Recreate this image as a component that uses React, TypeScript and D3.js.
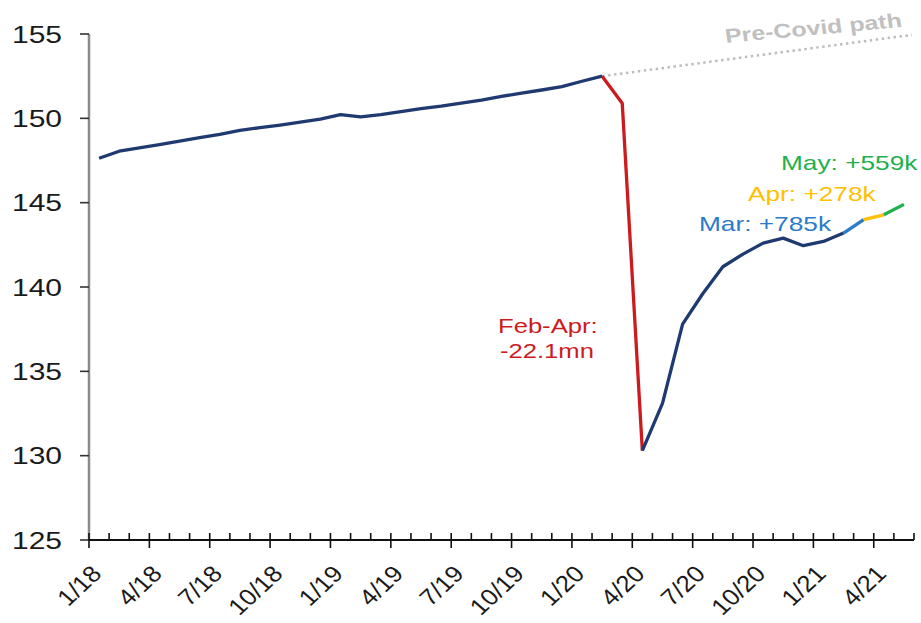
import React from "react";
import * as d3 from "d3";

// ---- data ----
const months = [
  "1/18","2/18","3/18","4/18","5/18","6/18","7/18","8/18","9/18","10/18","11/18","12/18",
  "1/19","2/19","3/19","4/19","5/19","6/19","7/19","8/19","9/19","10/19","11/19","12/19",
  "1/20","2/20","3/20","4/20","5/20","6/20","7/20","8/20","9/20","10/20","11/20","12/20",
  "1/21","2/21","3/21","4/21","5/21",
];
const employment = [
  147.63,148.05,148.25,148.44,148.65,148.85,149.05,149.28,149.45,149.6,149.77,149.95,
  150.22,150.08,150.22,150.4,150.58,150.72,150.9,151.08,151.3,151.5,151.68,151.88,
  152.2,152.5,150.9,130.3,133.1,137.8,139.6,141.2,141.95,142.6,142.9,142.45,
  142.7,143.2,144.0,144.28,144.9,
];
const yTicks = [125, 130, 135, 140, 145, 150, 155];
const xTickLabels = ["1/18","4/18","7/18","10/18","1/19","4/19","7/19","10/19","1/20","4/20","7/20","10/20","1/21","4/21"];
const preCovidMonths = ["2/20", "5/21"];
const preCovidValues = [152.5, 154.95];
// segment break months: navy, red (Feb-Apr), navy, Mar, Apr, May
const segmentBreaks = ["1/18", "2/20", "4/20", "2/21", "3/21", "4/21", "5/21"];
const annotationTexts = ["Feb-Apr:", "-22.1mn", "Mar: +785k", "Apr: +278k", "May: +559k"];
const preCovidLabel = "Pre-Covid path";

// ---- styles ----
const NAVY = "#1f3a70";
const segColors = [NAVY, "#cc1b1f", NAVY, "#2a7bc9", "#ffc000", "#22b04c"];
const FONT = "'Liberation Sans', Arial, Helvetica, sans-serif";

export default function App() {
  const left = 89, right = 914, top = 34, bottom = 540;
  const x = d3.scaleBand<string>().domain(months).range([left, right]).padding(0);
  const y = d3.scaleLinear().domain([125, 155]).range([bottom, top]);
  const bw = x.bandwidth();
  const cx = (m: string) => (x(m) as number) + bw / 2;

  const pts = months.map((m, i) => ({ m, v: employment[i] }));
  const line = d3
    .line<{ m: string; v: number }>()
    .x((d) => cx(d.m))
    .y((d) => y(d.v));

  const segs = segColors.map((c, k) => {
    const a = months.indexOf(segmentBreaks[k]);
    const b = months.indexOf(segmentBreaks[k + 1]);
    return { color: c, d: line(pts.slice(a, b + 1)) as string };
  });

  const preLine = d3
    .line<number>()
    .x((d, i) => (i === 0 ? cx(preCovidMonths[0]) : (x(preCovidMonths[1]) as number) + bw * 0.9))
    .y((d) => y(d));

  const boundaries = d3.range(months.length + 1);

  return (
    <svg
      width={921}
      height={623}
      style={{ position: "absolute", left: 0, top: 0, background: "#fff" }}
      fontFamily={FONT}
    >
      {/* pre-covid path */}
      <path
        d={preLine(preCovidValues) as string}
        fill="none"
        stroke="#bdbdbd"
        strokeWidth={2.5}
        strokeDasharray="2.5 3.5"
      />
      <text
        transform="translate(726,43) scale(1.25,1) rotate(-6.5)"
        fontSize={20}
        fontWeight="bold"
        fill="#c0c0c0"
      >
        {preCovidLabel}
      </text>

      {/* y axis */}
      <line x1={left} x2={left} y1={top} y2={bottom} stroke="#8a8a8a" strokeWidth={2.5} />
      {yTicks.map((t) => (
        <g key={t}>
          <line x1={80} x2={left} y1={y(t)} y2={y(t)} stroke="#333" strokeWidth={1.6} />
          <text
            transform={`translate(62,${y(t)}) scale(1.25,1)`}
            textAnchor="end"
            dy="0.36em"
            fontSize={24}
            fill="#1a1a1a"
          >
            {t}
          </text>
        </g>
      ))}

      {/* x axis */}
      <line x1={left} x2={right} y1={bottom} y2={bottom} stroke="#111" strokeWidth={2} />
      {boundaries.map((i) => {
        const bx = left + i * bw;
        const major = i % 3 === 0 && i < months.length;
        return (
          <line
            key={i}
            x1={bx}
            x2={bx}
            y1={bottom - 7}
            y2={major ? bottom + 8 : bottom}
            stroke="#111"
            strokeWidth={1.6}
          />
        );
      })}
      {xTickLabels.map((lab) => {
        const tx = x(lab) as number;
        return (
          <text
            key={lab}
            transform={`translate(${tx + 14},575) scale(1.12,1) rotate(-46)`}
            textAnchor="end"
            fontSize={23}
            fill="#1a1a1a"
          >
            {lab}
          </text>
        );
      })}

      {/* series */}
      {segs.map((s, k) => (
        <path
          key={k}
          d={s.d}
          fill="none"
          stroke={s.color}
          strokeWidth={3.3}
          strokeLinejoin="round"
          strokeLinecap="butt"
        />
      ))}

      {/* annotations */}
      <text transform="translate(498,333) scale(1.25,1)" fontSize={20.5} fill="#cc1b1f">
        {annotationTexts[0]}
      </text>
      <text transform="translate(500,358) scale(1.25,1)" fontSize={20.5} fill="#cc1b1f">
        {annotationTexts[1]}
      </text>
      <text transform="translate(699,231) scale(1.25,1)" fontSize={21} fill="#2a7bc9">
        {annotationTexts[2]}
      </text>
      <text transform="translate(748,201) scale(1.25,1)" fontSize={21} fill="#ffc000">
        {annotationTexts[3]}
      </text>
      <text transform="translate(781,170) scale(1.25,1)" fontSize={21} fill="#22b04c">
        {annotationTexts[4]}
      </text>
    </svg>
  );
}
